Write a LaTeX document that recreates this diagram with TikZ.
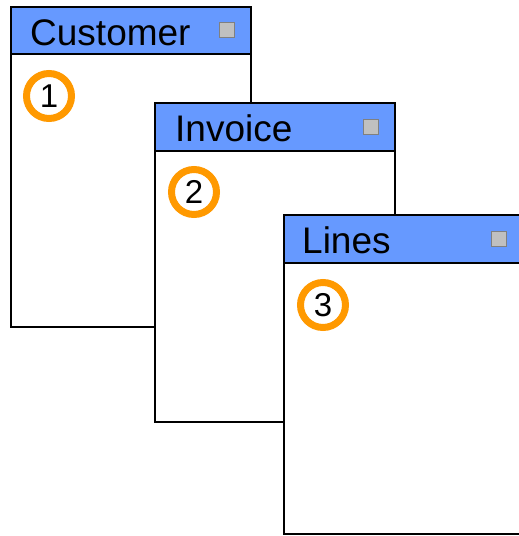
\documentclass[tikz,border=0pt]{standalone}
\usepackage{fontspec}
\setmainfont{Liberation Sans}
\usepackage{xcolor}
\usetikzlibrary{positioning,calc}
\definecolor{headblue}{HTML}{6699FF}
\definecolor{badgeorange}{HTML}{FF9900}
\definecolor{boxgray}{HTML}{C0C0C0}
\definecolor{boxedge}{HTML}{808080}

\tikzset{
  winbody/.style={draw=black, fill=white, line width=2pt},
  winhead/.style={draw=black, fill=headblue, line width=2pt},
  wintitle/.style={anchor=base west, inner sep=0pt, font=\fontsize{37}{42}\selectfont},
  closebox/.style={draw=boxedge, fill=boxgray, line width=1.5pt, minimum size=15pt, inner sep=0pt},
  badge/.style={circle, draw=badgeorange, fill=white, line width=7pt, minimum size=45pt, inner sep=0pt, font=\fontsize{33}{36}\selectfont}
}

\begin{document}
\begin{tikzpicture}[x=1pt, y=-1pt]
    \useasboundingbox (0,0) rectangle (519,536);
    \clip (0,0) rectangle (519,536);

    % Customer
    \draw[winbody] (10.5,7) rectangle (250.5,327);
    \draw[winhead] (10.5,7) rectangle (250.5,54);
    \node[wintitle] (custtitle) at (30,45) {Customer};
    \node[closebox] (custbox) at (227,30) {};
    \node[badge] (c1) at (49,96) {1};

    % Invoice
    \draw[winbody] (155,103) rectangle (395,422);
    \draw[winhead] (155,103) rectangle (395,151);
    \node[wintitle] (invtitle) at (175,141) {Invoice};
    \node[closebox] (invbox) at (371,127) {};
    \node[badge] (c2) at (194,192) {2};

    % Lines
    \draw[winbody] (283.5,215) rectangle (530,534);
    \draw[winhead] (283.5,215) rectangle (530,263);
    \node[wintitle] (linetitle) at (302,253) {Lines};
    \node[closebox] (linebox) at (499,239) {};
    \node[badge] (c3) at (323,305) {3};
\end{tikzpicture}
\end{document}
